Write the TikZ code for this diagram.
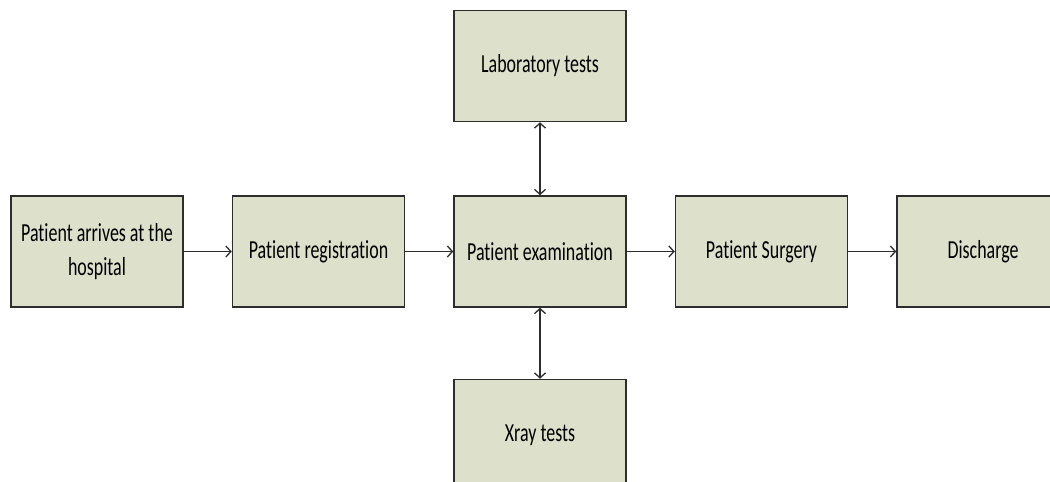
\documentclass[tikz,border=0pt]{standalone}
\usepackage{graphicx}
\usepackage{fontspec}
\setmainfont[Ligatures=NoCommon]{Carlito}
\usetikzlibrary{positioning,arrows.meta}
\definecolor{boxfill}{RGB}{221,224,203}
\definecolor{boxline}{RGB}{45,45,45}
\newcommand{\narrow}[1]{\scalebox{0.69}[1]{#1}}

\begin{document}
\begin{tikzpicture}[x=1pt,y=-1pt,
  box/.style={draw=boxline,fill=boxfill,line width=1.5pt,
    minimum width=172pt,minimum height=111pt,inner sep=3pt,
    align=center,font=\fontsize{26}{34}\selectfont},
  link/.style={draw=boxline,line width=1.3pt,
    arrows={-Straight Barb[length=5pt,width=11pt]}},
  both/.style={link,arrows={Straight Barb[length=5pt,width=11pt]-Straight Barb[length=5pt,width=11pt]}}]
\useasboundingbox (0,0) rectangle (1050,482);
\clip (0,0) rectangle (1050,482);
\node[box] (arrive) at (97,251.5) {\narrow{Patient arrives at the}\\\narrow{hospital}};
\node[box,right=48pt of arrive] (register) {\narrow{Patient registration}};
\node[box,right=48pt of register] (exam) {\narrow{Patient examination}};
\node[box,right=48pt of exam] (surgery) {\narrow{Patient Surgery}};
\node[box,right=48pt of surgery] (discharge) {\narrow{Discharge}};
\node[box,above=73pt of exam] (lab) {\narrow{Laboratory tests}};
\node[box,below=71pt of exam] (xray) {\narrow{Xray tests}};
% flow
\draw[link] (arrive) -- (register);
\draw[link] (register) -- (exam);
\draw[link] (exam) -- (surgery);
\draw[link] (surgery) -- (discharge);
\draw[both] (lab) -- (exam);
\draw[both] (exam) -- (xray);
\end{tikzpicture}
\end{document}
